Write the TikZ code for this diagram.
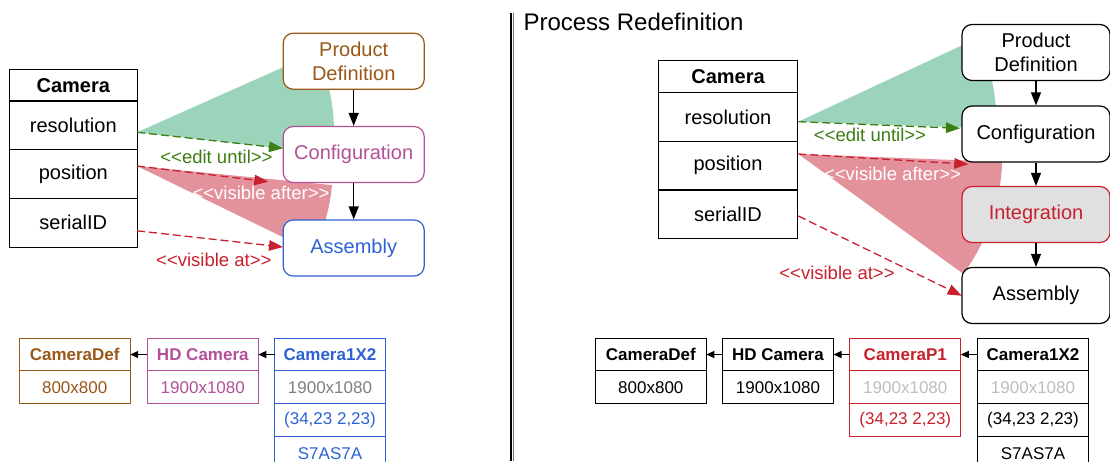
\documentclass[tikz,border=0pt]{standalone}
\usepackage{fontspec}
\setmainfont{Liberation Sans}
\usetikzlibrary{arrows.meta,positioning,calc}
\definecolor{pdBrown}{RGB}{153,87,24}
\definecolor{cfPurple}{RGB}{178,80,152}
\definecolor{asBlue}{RGB}{45,98,212}
\definecolor{vRed}{RGB}{200,32,44}
\definecolor{eGreen}{RGB}{60,125,20}
\definecolor{wedgeGreen}{RGB}{155,212,186}
\definecolor{wedgeRed}{RGB}{227,146,156}
\definecolor{intGray}{RGB}{224,224,224}
\definecolor{midGray}{RGB}{128,128,128}
\definecolor{lightGray}{RGB}{190,190,190}

\begin{document}
\begin{tikzpicture}[x=1pt, y=-1pt,
  font=\fontsize{20}{23.5}\selectfont,
  cell/.style={draw, line width=1.2pt, fill=white, minimum height=48.7pt, outer sep=0pt, inner sep=0pt},
  chead/.style={cell, minimum height=31.7pt, font=\fontsize{20}{23.5}\selectfont\bfseries},
  proc/.style={draw, line width=1.2pt, fill=white, rounded corners=10pt, minimum height=56pt, align=center, inner sep=2pt},
  flow/.style={-{Triangle[length=13pt,width=10pt]}, line width=1.2pt},
  dep/.style={dash pattern=on 8pt off 4pt, line width=1.3pt, -{Triangle[length=14pt,width=10.5pt]}},
  lbl/.style={font=\fontsize{18.5}{20}\selectfont, inner sep=0pt},
  tb/.style={draw, line width=1.2pt, fill=white, minimum width=111pt, minimum height=33pt, outer sep=0pt, inner sep=0pt, font=\fontsize{17}{19}\selectfont},
  tbh/.style={tb, minimum height=32.4pt, font=\fontsize{17}{19}\selectfont\bfseries},
  inh/.style={-{Triangle[length=8pt,width=7pt]}, line width=1.2pt}
]
\useasboundingbox (0,0) rectangle (1110,461);

% wedges behind everything
\fill[wedgeGreen] (137,132.3) -- ++(24:197pt) arc[start angle=24, end angle=-6.3, radius=197pt] -- cycle;
\fill[wedgeRed] (137,166) -- ++(-5.6:196pt) arc[start angle=-5.6, end angle=-26, radius=196pt] -- cycle;
\fill[wedgeGreen] (798.3,121.7) -- ++(25:198pt) arc[start angle=25, end angle=-2, radius=198pt] -- cycle;
\fill[wedgeRed] (798.3,154) -- ++(-2.2:204pt) arc[start angle=-2.2, end angle=-36, radius=204pt] -- cycle;

% divider + title
\draw[line width=1.3pt] (511,12.5) -- (511,461);
\draw[line width=0.9pt, black!55] (513.6,12.5) -- (513.6,461);
\node[anchor=base west, inner sep=0pt, font=\fontsize{24}{28}\selectfont] (ttl) at (523.3,30.7) {Process Redefinition};

% Camera class, both sides
\node[chead, minimum width=128pt] (camL) at (73.3,85.2) {Camera};
\node[chead, minimum width=139.4pt] (camR) at (728,76.7) {Camera};
\foreach \s/\w in {L/128, R/139.4} {
  \node[cell, minimum width=\w pt, below=0pt of cam\s] (res\s) {resolution};
  \node[cell, minimum width=\w pt, below=0pt of res\s] (pos\s) {position};
  \node[cell, minimum width=\w pt, below=0pt of pos\s] (ser\s) {serialID};
}

% process, left
\node[proc, draw=pdBrown, text=pdBrown, minimum width=141pt] (pdL) at (353.7,61.2) {Product\\Definition};
\node[proc, draw=cfPurple, text=cfPurple, minimum width=141pt] (cfL) at (353.7,154.5) {Configuration};
\node[proc, draw=asBlue, text=asBlue, minimum width=141pt] (asL) at (353.7,248) {Assembly};
\draw[flow] (pdL) -- (cfL);
\draw[flow] (cfL) -- (asL);

% process, right
\node[proc, minimum width=148pt] (pdR) at (1036,52.5) {Product\\Definition};
\node[proc, minimum width=148pt] (cfR) at (1036,134) {Configuration};
\node[proc, draw=vRed, text=vRed, fill=intGray, minimum width=148pt] (inR) at (1036,214.5) {Integration};
\node[proc, minimum width=148pt] (asR) at (1036,295.5) {Assembly};
\foreach \a/\b in {pdR/cfR, cfR/inR, inR/asR} \draw[flow] (\a) -- (\b);

% dependencies
\coordinate (gL0) at (137,132.3);   \coordinate (gL1) at (283,148.3);
\coordinate (aL0) at (137,166);     \coordinate (aL1) at (268.3,181.7);
\coordinate (vL0) at (137,230.8);   \coordinate (vL1) at (283,247);
\coordinate (gR0) at (798.3,121.7); \coordinate (gR1) at (960,128.3);
\coordinate (aR0) at (798.3,154);   \coordinate (aR1) at (968.3,164.2);
\coordinate (vR0) at (798.3,216);   \coordinate (vR1) at (961.7,295.7);
\foreach \s in {L, R} {
  \draw[dep, eGreen] (g\s0) -- (g\s1);
  \draw[dep, vRed] (a\s0) -- (a\s1);
  \draw[dep, vRed] (v\s0) -- (v\s1);
}
\node[lbl, text=eGreen] (euL) at (216.5,156.7) {<{}<edit until>{}>};
\node[lbl, text=white] (vaL) at (261,192.7) {<{}<visible after>{}>};
\node[lbl, text=vRed] (vtL) at (213.8,260) {<{}<visible at>{}>};
\node[lbl, text=eGreen] (euR) at (870,135) {<{}<edit until>{}>};
\node[lbl, text=white] (vaR) at (892.5,174) {<{}<visible after>{}>};
\node[lbl, text=vRed] (vtR) at (837,273.3) {<{}<visible at>{}>};

% instances, left
\foreach \n/\x/\c/\t in {dfL/74.7/pdBrown/CameraDef, hdL/202.8/cfPurple/HD Camera, c1L/330/asBlue/Camera1X2}
  \node[tbh, draw=\c, text=\c] (\n) at (\x,354.5) {\t};
\node[tb, draw=pdBrown, text=pdBrown, below=0pt of dfL] (dfL1) {800x800};
\node[tb, draw=cfPurple, text=cfPurple, below=0pt of hdL] (hdL1) {1900x1080};
\node[tb, draw=asBlue, text=midGray, below=0pt of c1L] (c1L1) {1900x1080};
\node[tb, draw=asBlue, text=asBlue, below=0pt of c1L1] (c1L2) {(34,23 2,23)};
\node[tb, draw=asBlue, text=asBlue, below=0pt of c1L2] (c1L3) {S7AS7A};
\draw[inh] (hdL) -- (dfL);
\draw[inh] (c1L) -- (hdL);

% instances, right
\foreach \n/\x/\c/\t in {dfR/650.8/black/CameraDef, hdR/778/black/HD Camera, p1R/905.3/vRed/CameraP1, c1R/1033/black/Camera1X2}
  \node[tbh, draw=\c, text=\c] (\n) at (\x,354.5) {\t};
\node[tb, below=0pt of dfR] (dfR1) {800x800};
\node[tb, below=0pt of hdR] (hdR1) {1900x1080};
\node[tb, draw=vRed, text=lightGray, below=0pt of p1R] (p1R1) {1900x1080};
\node[tb, draw=vRed, text=vRed, below=0pt of p1R1] (p1R2) {(34,23 2,23)};
\node[tb, text=lightGray, below=0pt of c1R] (c1R1) {1900x1080};
\node[tb, below=0pt of c1R1] (c1R2) {(34,23 2,23)};
\node[tb, below=0pt of c1R2] (c1R3) {S7AS7A};
\foreach \a/\b in {hdR/dfR, p1R/hdR, c1R/p1R} \draw[inh] (\a) -- (\b);
\end{tikzpicture}
\end{document}
